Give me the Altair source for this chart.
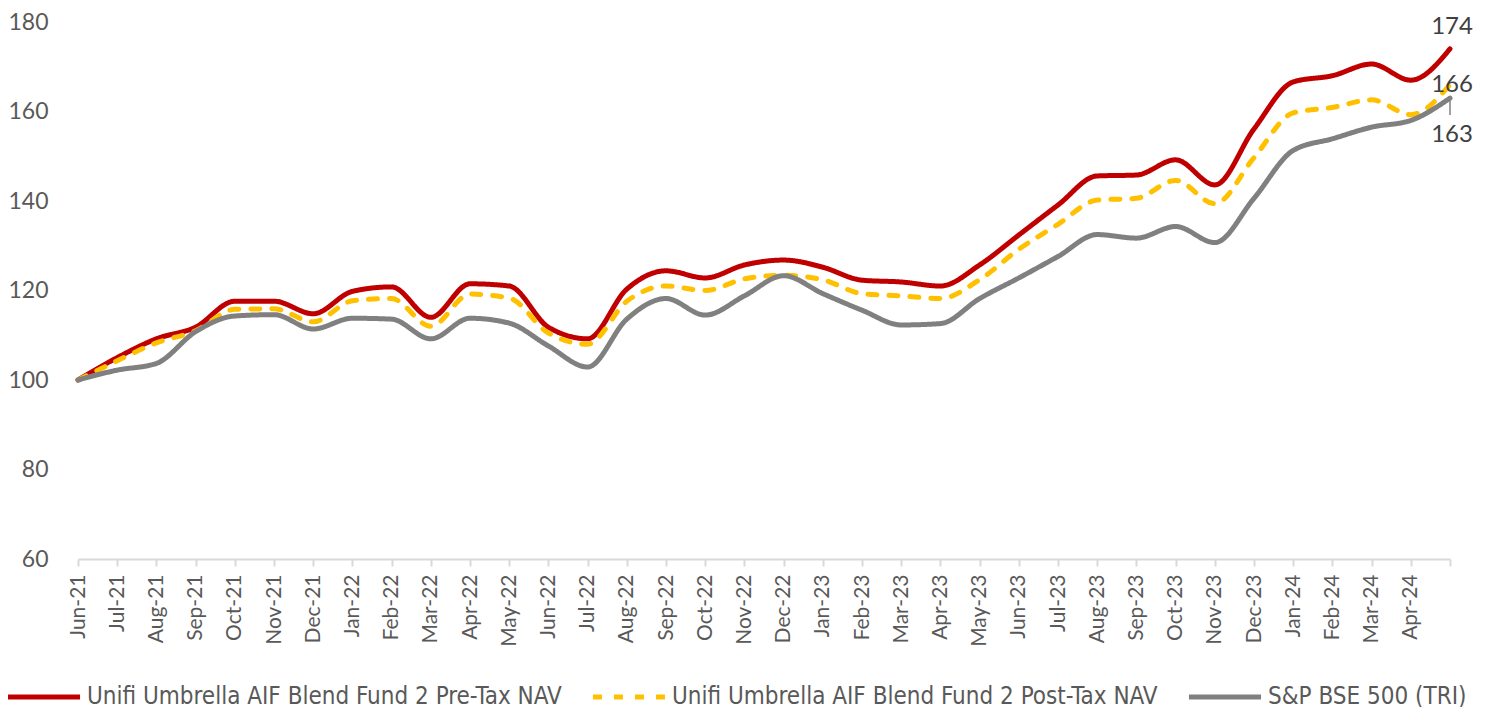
import altair as alt
import pandas as pd

months = ["Jun-21", "Jul-21", "Aug-21", "Sep-21", "Oct-21", "Nov-21", "Dec-21",
          "Jan-22", "Feb-22", "Mar-22", "Apr-22", "May-22", "Jun-22", "Jul-22",
          "Aug-22", "Sep-22", "Oct-22", "Nov-22", "Dec-22", "Jan-23", "Feb-23",
          "Mar-23", "Apr-23", "May-23", "Jun-23", "Jul-23", "Aug-23", "Sep-23",
          "Oct-23", "Nov-23", "Dec-23", "Jan-24", "Feb-24", "Mar-24", "Apr-24",
          "May-24"]

pre_tax = [100, 105, 109.2, 111.8, 117.6, 117.6, 114.8, 119.8, 120.8, 114, 121.5,
           121, 111.8, 109.2, 120.3, 124.4, 122.8, 125.7, 126.8, 125.2, 122.3,
           121.9, 121, 125.7, 132.4, 139.1, 145.6, 145.8, 149.2, 143.6, 156.1,
           166.6, 168, 170.6, 167, 174]
post_tax = [100, 104.3, 108.3, 111, 115.8, 115.9, 113, 117.7, 118.2, 112, 119.2,
            118.3, 110.5, 108, 117.6, 121, 120, 122.6, 123.4, 122.4, 119.3,
            118.8, 118.2, 122.4, 129.2, 134.8, 140.2, 140.6, 144.6, 139.4, 149.7,
            159.7, 160.9, 162.6, 159.3, 166]
bse500 = [100, 102.2, 103.7, 110.8, 114.3, 114.6, 111.4, 113.8, 113.6, 109.2, 113.8,
          112.7, 107.6, 102.9, 113.6, 118.2, 114.5, 118.8, 123.3, 119.3, 115.6,
          112.3, 112.6, 118.2, 122.8, 127.6, 132.5, 131.7, 134.3, 130.7, 140.6,
          151.3, 153.9, 156.5, 158, 163]

series_names = ["Unifi Umbrella AIF Blend Fund 2 Pre-Tax NAV",
                "Unifi Umbrella AIF Blend Fund 2 Post-Tax NAV",
                "S&P BSE 500 (TRI)"]
series_colors = ["#C00000", "#FFC000", "#808080"]
series_dashes = [[1, 0], [9, 12], [1, 0]]
y_ticks = [60, 80, 100, 120, 140, 160, 180]
leader_end = 159.2  # end of the leader line under the S&P label

rows = []
for name, vals in zip(series_names, [pre_tax, post_tax, bse500]):
    for i, (m, v) in enumerate(zip(months, vals)):
        rows.append({"month": m, "idx": i, "series": name, "value": v})
df = pd.DataFrame(rows)
last = df[df["month"] == months[-1]].copy()
last["label"] = last["value"].round(0).astype(int).astype(str)
last["lead"] = leader_end

x_enc = alt.X("month:N", sort=months,
              scale=alt.Scale(type="point", padding=0),
              axis=alt.Axis(title=None, labelAngle=-90,
                            labelExpr="datum.value == 'May-24' ? '' : datum.value",
                            labelFontSize=21, labelColor="#595959", labelFont="Lato",
                            labelPadding=8, domainColor="#D9D9D9", domainWidth=2,
                            tickColor="#D9D9D9", tickWidth=2, tickSize=7,
                            grid=False))
y_enc = alt.Y("value:Q", scale=alt.Scale(domain=[60, 180], nice=False, zero=False),
              axis=alt.Axis(title=None, values=y_ticks, grid=False, domain=False,
                            ticks=False, labelFontSize=23, labelColor="#595959",
                            labelFont="Lato", labelPadding=30))

base = alt.Chart(df)
lines = base.mark_line(strokeWidth=5, strokeCap="round", interpolate="monotone").encode(
    x=x_enc, y=y_enc,
    color=alt.Color("series:N", sort=series_names,
                    scale=alt.Scale(domain=series_names, range=series_colors),
                    legend=alt.Legend(title=None, orient="none", direction="horizontal",
                                      legendX=-73, legendY=636,
                                      symbolType="stroke", symbolStrokeWidth=5,
                                      symbolSize=5200, labelFontSize=24,
                                      labelFont="Liberation Sans Narrow, DejaVu Sans Condensed, Lato",
                                      labelColor="#595959", labelOffset=4,
                                      columnPadding=20, labelLimit=600)),
    strokeDash=alt.StrokeDash("series:N", sort=series_names,
                              scale=alt.Scale(domain=series_names, range=series_dashes),
                              legend=alt.Legend(title=None)),
    order="idx:Q",
)

lbl_style = dict(fontSize=24, font="Lato", color="#404040")
lab_pre = alt.Chart(last).transform_filter(
    alt.datum.series == series_names[0]).mark_text(dx=2, dy=-22, **lbl_style).encode(
    x=alt.X("month:N", sort=months), y="value:Q", text="label:N")
lab_post = alt.Chart(last).transform_filter(
    alt.datum.series == series_names[1]).mark_text(dx=2, dy=0, **lbl_style).encode(
    x=alt.X("month:N", sort=months), y="value:Q", text="label:N")
lab_bse = alt.Chart(last).transform_filter(
    alt.datum.series == series_names[2]).mark_text(dx=2, dy=37, **lbl_style).encode(
    x=alt.X("month:N", sort=months), y="value:Q", text="label:N")
leader = alt.Chart(last).transform_filter(
    alt.datum.series == series_names[2]).mark_rule(color="#808080", strokeWidth=1.5).encode(
    x=alt.X("month:N", sort=months), y="value:Q", y2="lead:Q")

chart = alt.layer(lines, leader, lab_pre, lab_post, lab_bse).properties(
    width=1372, height=537,
    padding={"left": 70, "top": 14, "right": 30, "bottom": 148},
    autosize=alt.AutoSizeParams(type="none"),
).configure(background="white").configure_view(stroke=None)

chart.save("out.html", embed_options={"renderer": "svg", "actions": False})
